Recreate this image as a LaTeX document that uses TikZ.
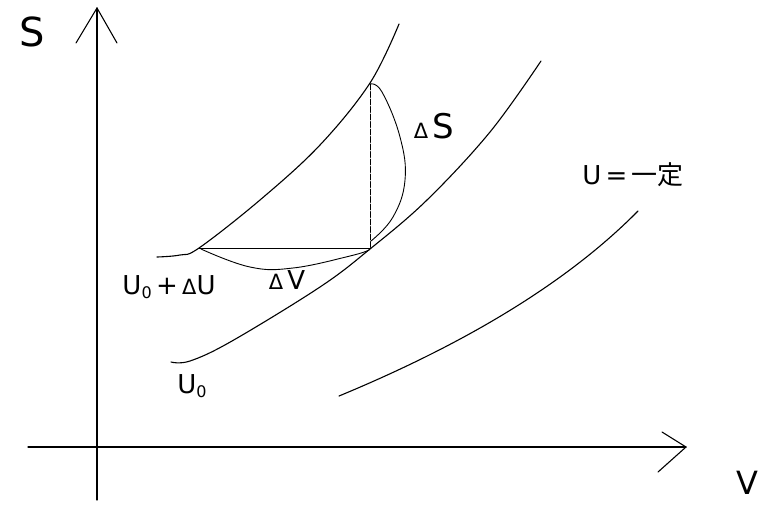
\documentclass[tikz,border=0pt]{standalone}
\usepackage{fontspec}
\setmainfont{DejaVu Sans}
\newfontfamily\cjkfont{Noto Sans CJK JP}
\newcommand{\smdelta}{{\fontsize{21}{22}\selectfont Δ}}
\begin{document}
\begin{tikzpicture}[x=1pt,y=-1pt,
  curve/.style={line width=1.1pt, line join=round, line cap=round},
  thin/.style={line width=0.9pt, line cap=round},
  lbl/.style={inner sep=0pt, font=\fontsize{26}{28}\selectfont}]
\useasboundingbox (0,0) rectangle (759,504);
% axes
\coordinate (ybot) at (97,500);
\coordinate (ytop) at (97,8);
\coordinate (yl) at (76,43);
\coordinate (yr) at (117,43);
\coordinate (xl) at (28,447);
\coordinate (xr) at (686,447);
\coordinate (xu) at (662,432);
\coordinate (xd) at (658,472);
\draw[curve] (ybot) -- (ytop);
\draw[curve] (yl) -- (ytop) -- (yr);
\draw[curve] (xl) -- (xr);
\draw[curve] (xu) -- (xr) -- (xd);
% curves
\draw[curve] plot[smooth, tension=0.6] coordinates {(157,257) (180,255) (199,248) (260,200) (320,145) (370,83) (399,24)};
\draw[curve] plot[smooth, tension=0.6] coordinates {(171,362) (190,361) (232,341) (320,287) (370,249) (427,200) (490,132) (541,61)};
\coordinate (L1) at (339,396);
\coordinate (L2) at (638,211);
\draw[curve] (L1) .. controls (450,350) and (560,290) .. (L2);
% triangle
\coordinate (A) at (199,248);
\coordinate (B) at (370,248);
\coordinate (C) at (370,84);
\draw[thin] (A) -- (B);
\draw[thin, dash pattern=on 6pt off 1.5pt] (C) -- (B);
% Delta S arc
\draw[thin] plot[smooth, tension=0.7] coordinates {(370,84) (382,92) (400,137) (405,180) (393,217) (371,241)};
% Delta V arc
\draw[thin] plot[smooth, tension=0.7] coordinates {(201,249) (250,267) (293,268) (350,256) (369,250)};
% labels
\node[lbl] (dS) at (434,126) {\smdelta\,\fontsize{34}{36}\selectfont S};
\node[lbl] (dV) at (287,280) {\smdelta\,V};
\node[lbl] (U0dU) at (169,287) {U{\fontsize{16}{18}\selectfont\raisebox{-4pt}{0}}\,+\,\smdelta U};
\node[lbl] (U0) at (192,386) {U{\fontsize{16}{18}\selectfont\raisebox{-4pt}{0}}};
\node[lbl] (Uc) at (633,175) {U\,=\,{\cjkfont 一定}};
\node[lbl, font=\fontsize{40}{42}\selectfont] (Slab) at (32,32) {S};
\node[lbl, font=\fontsize{32}{34}\selectfont] (Vlab) at (747,483) {V};
\end{tikzpicture}
\end{document}
